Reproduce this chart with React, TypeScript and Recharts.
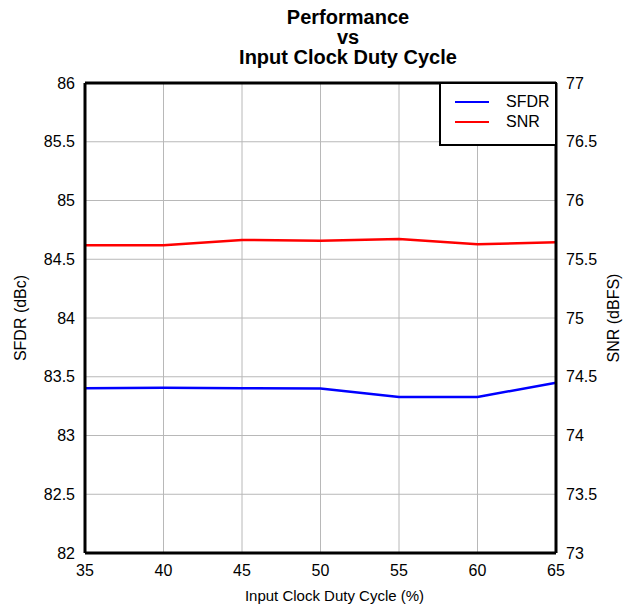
import React from 'react';
import { LineChart, Line, XAxis, YAxis, CartesianGrid, ReferenceLine } from 'recharts';

const dutyCycle = [35, 40, 45, 50, 55, 60, 65];
const sfdr = [83.402, 83.407, 83.402, 83.4, 83.328, 83.328, 83.449];
const snr = [75.619, 75.619, 75.664, 75.658, 75.672, 75.627, 75.644];

const xTicks = [35, 40, 45, 50, 55, 60, 65];
const sfdrTicks = [82, 82.5, 83, 83.5, 84, 84.5, 85, 85.5, 86];
const snrTicks = [73, 73.5, 74, 74.5, 75, 75.5, 76, 76.5, 77];

const seriesNames = ['SFDR', 'SNR'];
const seriesColors = ['#0000ff', '#ff0000'];

const chartData = dutyCycle.map((d, i) => ({ duty: d, sfdr: sfdr[i], snr: snr[i] }));

const FONT = '"Liberation Sans", Arial, sans-serif';

const LegendBox = () => (
  <div
    style={{
      position: 'absolute',
      left: 439,
      top: 82,
      width: 118,
      height: 64,
      boxSizing: 'border-box',
      border: '2px solid #000',
      background: '#fff',
      fontFamily: FONT,
      fontSize: 16,
      zIndex: 2,
    }}
  >
    {seriesNames.map((name, i) => (
      <div key={name} style={{ position: 'absolute', left: 14, top: 9 + i * 20, display: 'flex', alignItems: 'center' }}>
        <div style={{ width: 34, height: 2, background: seriesColors[i] }} />
        <span style={{ marginLeft: 17, lineHeight: '18px' }}>{name}</span>
      </div>
    ))}
  </div>
);

const App: React.FC = () => (
  <div style={{ position: 'absolute', left: 0, top: 0, width: 635, height: 604, background: '#fff' }}>
    <div
      style={{
        position: 'absolute',
        left: 0,
        width: 696,
        top: 7,
        textAlign: 'center',
        fontFamily: FONT,
        fontWeight: 'bold',
        fontSize: 20,
        lineHeight: '20px',
        zIndex: 2,
      }}
    >
      Performance
      <br />
      vs
      <br />
      Input Clock Duty Cycle
    </div>
    <LineChart
      width={635}
      height={604}
      data={chartData}
      margin={{ top: 83, left: 25, right: 19, bottom: 21 }}
      style={{ fontFamily: FONT }}
    >
      <CartesianGrid stroke="#b8b8b8" strokeWidth={1} />
      <XAxis
        dataKey="duty"
        type="number"
        domain={[35, 65]}
        ticks={xTicks}
        height={30}
        tickLine={false}
        tickSize={0}
        tickMargin={12}
        axisLine={{ stroke: '#000', strokeWidth: 3 }}
        tick={{ fill: '#000', fontSize: 16 }}
        label={{ value: 'Input Clock Duty Cycle (%)', position: 'bottom', offset: 7, dx: 14, fill: '#000', fontSize: 15 }}
      />
      <YAxis
        domain={[82, 86]}
        ticks={sfdrTicks}
        width={60}
        tickLine={false}
        tickSize={0}
        tickMargin={10}
        interval={0}
        axisLine={{ stroke: '#000', strokeWidth: 3 }}
        tick={{ fill: '#000', fontSize: 16 }}
        label={{ value: 'SFDR (dBc)', angle: -90, position: 'insideLeft', offset: -5, fill: '#000', fontSize: 16, style: { textAnchor: 'middle' } }}
      />
      <YAxis
        yAxisId="right"
        orientation="right"
        domain={[73, 77]}
        ticks={snrTicks}
        width={60}
        tickLine={false}
        tickSize={0}
        tickMargin={10}
        interval={0}
        axisLine={{ stroke: '#000', strokeWidth: 3 }}
        tick={{ fill: '#000', fontSize: 16 }}
        label={{ value: 'SNR (dBFS)', angle: -90, position: 'insideRight', offset: 3, fill: '#000', fontSize: 16, style: { textAnchor: 'middle' } }}
      />
      <ReferenceLine y={86} stroke="#000" strokeWidth={3} />
      <Line dataKey="sfdr" stroke={seriesColors[0]} strokeWidth={2.5} dot={false} isAnimationActive={false} />
      <Line dataKey="snr" yAxisId="right" stroke={seriesColors[1]} strokeWidth={2.5} dot={false} isAnimationActive={false} />
    </LineChart>
    <LegendBox />
  </div>
);

export default App;
